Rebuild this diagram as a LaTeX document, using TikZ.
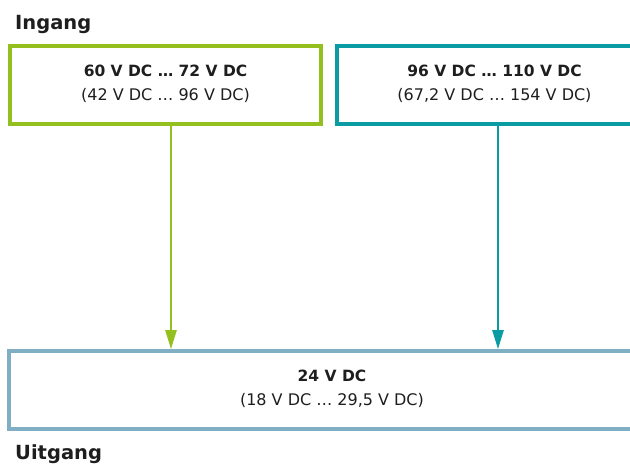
\documentclass[tikz,border=0pt]{standalone}
\usepackage{fontspec}
\setmainfont{DejaVu Sans}
\usetikzlibrary{arrows.meta}
\definecolor{cgreen}{HTML}{93C01F}
\definecolor{cteal}{HTML}{0A9BA3}
\definecolor{cblue}{HTML}{80AEC2}
\definecolor{ctext}{HTML}{1E1E1E}
\tikzset{
  box/.style={draw, line width=3.6pt, minimum height=78pt, inner sep=0pt, fill=white},
  conn/.style={line width=2.4pt, -{Triangle[length=19pt,width=11pt]}},
  title/.style={anchor=base west, inner sep=0pt, font=\fontsize{19.5}{24}\selectfont\bfseries, text=ctext},
  bline/.style={anchor=base, inner sep=0pt, font=\fontsize{15.5}{19}\selectfont\bfseries, text=ctext},
  rline/.style={anchor=base, inner sep=0pt, font=\fontsize{16}{19}\selectfont, text=ctext},
}
\begin{document}
\begin{tikzpicture}[x=1pt,y=-1pt]
\useasboundingbox (0,0) rectangle (630,465);
\clip (0,0) rectangle (630,465);
\node[title] (in) at (15,30) {Ingang};
\node[title] (out) at (15,460) {Uitgang};
\node[box, draw=cgreen, minimum width=311pt] (g) at (165.5,85) {};
\node[box, draw=cteal, minimum width=315pt] (t) at (494.5,85) {};
\node[box, draw=cblue, minimum width=646pt] (o) at (332,390) {};
\node[bline] (g1) at (165.5,77) {60 V DC … 72 V DC};
\node[rline] (g2) at (165.5,101) {(42 V DC … 96 V DC)};
\node[bline] (t1) at (494.5,77) {96 V DC … 110 V DC};
\node[rline] (t2) at (494.5,101) {(67,2 V DC … 154 V DC)};
\node[bline] (o1) at (332,382) {24 V DC};
\node[rline] (o2) at (332,406) {(18 V DC … 29,5 V DC)};
\coordinate (ga) at (171,200);
\coordinate (ta) at (498,200);
\draw[conn, cgreen] (ga |- g.south) -- (ga |- o.north);
\draw[conn, cteal] (ta |- t.south) -- (ta |- o.north);
\end{tikzpicture}
\end{document}
